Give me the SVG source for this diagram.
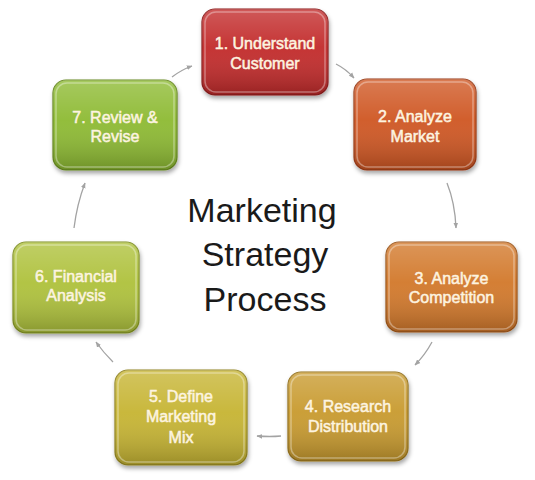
<svg xmlns="http://www.w3.org/2000/svg" width="535" height="480" viewBox="0 0 535 480">
<style>
.lbl{font-family:"Liberation Sans",Arial,sans-serif;font-size:16px;fill:#fdf4e0;stroke:#fdf4e0;stroke-width:0.5;text-anchor:middle}
.title{font-family:"Liberation Sans",Arial,sans-serif;font-size:34px;fill:#1a1a1a;text-anchor:middle}
.conn{fill:none;stroke:#a3a3a3;stroke-width:1.3;marker-end:url(#ah)}
.ov{fill:url(#shade)}
.rim{fill:none;stroke:#ffffff;stroke-opacity:0.35;stroke-width:1.5}
</style>
<defs>
<linearGradient id="shade" x1="0" y1="0" x2="0" y2="1">
<stop offset="0" stop-color="#ffffff" stop-opacity="0.22"/>
<stop offset="0.45" stop-color="#ffffff" stop-opacity="0.05"/>
<stop offset="1" stop-color="#000000" stop-opacity="0.22"/>
</linearGradient>
<filter id="sh" x="-20%" y="-20%" width="140%" height="150%">
<feDropShadow dx="1" dy="3" stdDeviation="2" flood-color="#000" flood-opacity="0.35"/>
</filter>
<marker id="ah" viewBox="0 0 10 10" refX="9" refY="5" markerWidth="4.5" markerHeight="4.5" orient="auto" markerUnits="strokeWidth">
<path d="M0,1 L10,5 L0,9 z" fill="#a3a3a3"/>
</marker>
</defs>
<rect width="535" height="480" fill="#ffffff"/>
<g id="connectors">
<path class="conn" d="M336,64 Q346,69 354,78"/>
<path class="conn" d="M447,183 Q455,203 456,228"/>
<path class="conn" d="M432,342 Q425,355 415,365"/>
<path class="conn" d="M281,436 Q270,437 257,436"/>
<path class="conn" d="M113,362 Q103,352 96,342"/>
<path class="conn" d="M74,228 Q77,204 85,183"/>
<path class="conn" d="M172,77 Q181,70 192,66"/>
</g>
<g id="title">
<text class="title" x="262" y="222">Marketing</text>
<text class="title" x="265" y="266">Strategy</text>
<text class="title" x="265" y="311">Process</text>
</g>
<g id="node1">
<rect x="202" y="9" width="126" height="86" rx="13" fill="#c22a2a" stroke="#8e1b1c" stroke-width="1.2" filter="url(#sh)"/>
<rect class="ov" x="202" y="9" width="126" height="86" rx="13"/>
<rect class="rim" x="205" y="12" width="120" height="80" rx="11"/>
<text class="lbl" x="265" y="49">1. Understand</text>
<text class="lbl" x="265" y="69">Customer</text>
</g>
<g id="node2">
<rect x="354" y="79" width="122" height="91" rx="13" fill="#cf5623" stroke="#9a3a14" stroke-width="1.2" filter="url(#sh)"/>
<rect class="ov" x="354" y="79" width="122" height="91" rx="13"/>
<rect class="rim" x="357" y="82" width="116" height="85" rx="11"/>
<text class="lbl" x="415" y="122">2. Analyze</text>
<text class="lbl" x="415" y="142">Market</text>
</g>
<g id="node3">
<rect x="386" y="242" width="131" height="90" rx="13" fill="#d2782c" stroke="#9c5418" stroke-width="1.2" filter="url(#sh)"/>
<rect class="ov" x="386" y="242" width="131" height="90" rx="13"/>
<rect class="rim" x="389" y="245" width="125" height="84" rx="11"/>
<text class="lbl" x="451.5" y="284">3. Analyze</text>
<text class="lbl" x="451.5" y="303">Competition</text>
</g>
<g id="node4">
<rect x="288" y="372" width="120" height="89" rx="13" fill="#c89a2e" stroke="#93701a" stroke-width="1.2" filter="url(#sh)"/>
<rect class="ov" x="288" y="372" width="120" height="89" rx="13"/>
<rect class="rim" x="291" y="375" width="114" height="83" rx="11"/>
<text class="lbl" x="348" y="412">4. Research</text>
<text class="lbl" x="348" y="432">Distribution</text>
</g>
<g id="node5">
<rect x="115" y="370" width="132" height="95" rx="13" fill="#c6b432" stroke="#918420" stroke-width="1.2" filter="url(#sh)"/>
<rect class="ov" x="115" y="370" width="132" height="95" rx="13"/>
<rect class="rim" x="118" y="373" width="126" height="89" rx="11"/>
<text class="lbl" x="181" y="402">5. Define</text>
<text class="lbl" x="181" y="422">Marketing</text>
<text class="lbl" x="181" y="443">Mix</text>
</g>
<g id="node6">
<rect x="13" y="242" width="126" height="91" rx="13" fill="#aec13a" stroke="#7f8f22" stroke-width="1.2" filter="url(#sh)"/>
<rect class="ov" x="13" y="242" width="126" height="91" rx="13"/>
<rect class="rim" x="16" y="245" width="120" height="85" rx="11"/>
<text class="lbl" x="76" y="282">6. Financial</text>
<text class="lbl" x="76" y="301">Analysis</text>
</g>
<g id="node7">
<rect x="53" y="80" width="124" height="90" rx="13" fill="#8dba32" stroke="#66891f" stroke-width="1.2" filter="url(#sh)"/>
<rect class="ov" x="53" y="80" width="124" height="90" rx="13"/>
<rect class="rim" x="56" y="83" width="118" height="84" rx="11"/>
<text class="lbl" x="115" y="123">7. Review &amp;</text>
<text class="lbl" x="115" y="142">Revise</text>
</g>
</svg>
